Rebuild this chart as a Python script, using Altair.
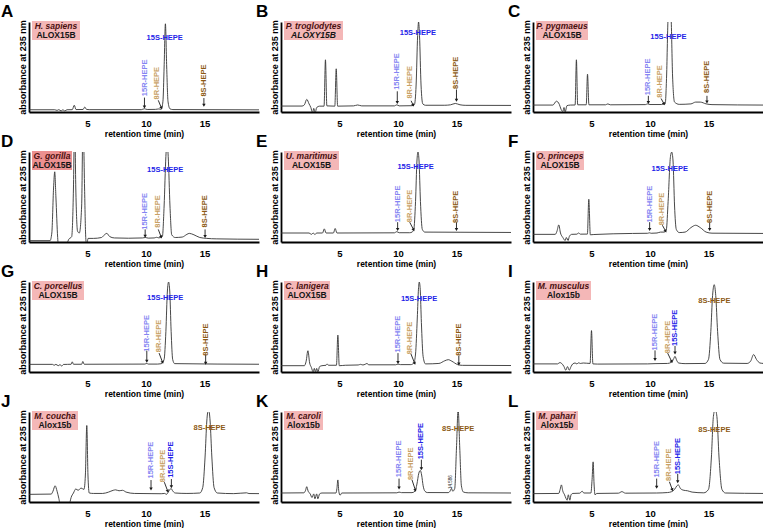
import math
import altair as alt
import pandas as pd

XMAX = 19.66
W, H = 230, 90
FONT = "Liberation Sans"

LETTERS = list("ABCDEFGHIJKL")
SPECIES = ["H. sapiens", "P. troglodytes", "P. pygmaeus", "G. gorilla", "U. maritimus", "O. princeps",
           "C. porcellus", "C. lanigera", "M. musculus", "M. coucha", "M. caroli", "M. pahari"]
ENZYMES = ["ALOX15B", "ALOXY15B", "ALOX15B", "ALOX15B", "ALOX15B", "ALOX15B",
           "ALOX15B", "ALOX15B", "Alox15b", "Alox15b", "Alox15b", "Alox15b"]
BOX_W = [48, 59, 52, 40, 55, 48, 52, 46, 55, 46, 39, 42]

LABEL_NAMES = ["15S-HEPE", "15R-HEPE", "8R-HEPE", "8S-HEPE"]
LABEL_COLORS = ["#2323e8", "#8585f2", "#c8a165", "#8c5a14"]

# ---- traces (retention time in min, absorbance in % of panel height) ----
A_trace = [(0, 2.5), (2.2, 2.5), (2.4, 1.8), (2.55, 2.6), (2.75, 1.2), (2.9, 2.5), (3.05, 1.2), (3.25, 2.5),
           (3.7, 2.6), (3.87, 7.5), (4.02, 2.7), (4.62, 2.8), (4.77, 5.5), (4.92, 2.8), (5.2, 2.6),
           (9.6, 2.6), (9.86, 3.6), (10.1, 2.8), (10.8, 2.9), (11.1, 3.4), (11.3, 3.0), (11.45, 12),
           (11.55, 50), (11.66, 98), (11.77, 50), (11.88, 12), (12.05, 3.5), (12.3, 2.7), (19.7, 2.4)]
B_trace = [(0, 6.6), (1.8, 6.6), (2.0, 8), (2.2, 14), (2.4, 9), (2.55, 5), (2.7, -1), (2.8, 4), (2.92, -1),
           (3.05, 5), (3.3, 6.5), (3.68, 6.5), (3.8, 58), (3.92, 6.8), (4.6, 6.5), (4.72, 48), (4.84, 6.5),
           (6.2, 6.8), (6.55, 7.8), (6.9, 6.8), (9.7, 6.8), (9.9, 8), (10.1, 6.8), (11.2, 7), (11.4, 8),
           (11.55, 30), (11.68, 85), (11.76, 100), (11.84, 85), (11.97, 30), (12.12, 9), (12.35, 7.5),
           (14.0, 7.5), (14.5, 8), (14.9, 9.5), (15.3, 8), (15.8, 7.4), (19.7, 7.3)]
C_trace = [(0, 7.7), (1.7, 7.7), (2.0, 12), (2.25, 8.5), (2.4, 3), (2.55, 0.5), (2.65, 5), (2.75, 0),
           (2.9, 7), (3.2, 7.7), (3.6, 7.8), (3.71, 58), (3.82, 8), (4.55, 8), (4.66, 42), (4.78, 8),
           (6.2, 8), (6.4, 9), (6.6, 8), (9.6, 8.2), (9.8, 9), (10.0, 8.3), (11.0, 8.3), (11.2, 9),
           (11.3, 9), (11.42, 40), (11.55, 105), (11.68, 115), (11.8, 105), (11.93, 40), (12.1, 11),
           (12.5, 8.5), (13.5, 9), (13.9, 11), (14.3, 11), (14.8, 9), (15.3, 8.2), (19.7, 7.7)]
D_trace = [(0, 1.5), (1.8, 1.5), (1.95, 10), (2.1, 60), (2.2, 78), (2.3, 50), (2.45, 5), (2.55, -8),
           (2.8, -3), (3.0, -8), (3.2, -3), (3.4, 3), (3.65, 6), (3.8, 60), (3.9, 140), (4.0, 60),
           (4.15, 12), (4.3, 10), (4.5, 40), (4.62, 140), (4.75, 60), (4.85, 5), (4.93, -4), (5.05, 4),
           (5.5, 4), (6.2, 5), (6.45, 8), (6.65, 9.6), (6.9, 6), (7.3, 4.5), (8.5, 4.2), (9.7, 4.5),
           (9.95, 5), (10.2, 4.3), (10.7, 4.5), (10.9, 5.2), (11.1, 4.6), (11.4, 6), (11.55, 40),
           (11.7, 95), (11.8, 110), (11.9, 95), (12.05, 40), (12.2, 8), (12.5, 5), (13.1, 5.5),
           (13.5, 8.5), (13.7, 9.6), (14.1, 8), (14.6, 5), (15.2, 4), (16, 3.5), (19.7, 3)]
E_trace = [(0, 10), (2.4, 10), (2.6, 8.5), (2.75, 10), (2.9, 8.3), (3.05, 10), (3.55, 10), (3.7, 14.6),
           (3.85, 10), (4.48, 10), (4.63, 15), (4.78, 10), (9.7, 10.2), (9.9, 11.5), (10.1, 10.3),
           (11.0, 10.3), (11.2, 11), (11.35, 14), (11.5, 45), (11.62, 90), (11.71, 100), (11.8, 90),
           (11.92, 45), (12.08, 14), (12.3, 11), (19.7, 10.6)]
F_trace = [(0, 8.5), (1.9, 8.5), (2.05, 12), (2.2, 19), (2.35, 10), (2.55, 5), (2.75, 1.7), (2.85, 5),
           (3.0, 1.7), (3.1, 6), (3.3, 8.5), (3.75, 8.7), (3.9, 10), (4.05, 8.7), (4.65, 8.8),
           (4.77, 47.5), (4.9, 8), (5.2, 8.3), (8.5, 9.5), (9.8, 9.7), (9.95, 10.2), (10.1, 9.7),
           (10.6, 10), (10.9, 11), (11.2, 11), (11.4, 14), (11.55, 45), (11.75, 95), (11.86, 100),
           (11.97, 90), (12.1, 40), (12.25, 14), (12.5, 10.5), (13.0, 11), (13.5, 16), (13.9, 18.6),
           (14.3, 16), (14.8, 11), (15.3, 9.8), (19.7, 9.5)]
G_trace = [(0, 8.5), (2.0, 8.5), (2.15, 7.5), (2.3, 8.5), (2.5, 7), (2.65, 8.2), (2.8, 6.6), (2.95, 8.4),
           (3.3, 8.5), (3.6, 8.6), (3.7, 11.3), (3.8, 8.6), (4.5, 8.6), (4.6, 11.7), (4.72, 8.6),
           (9.9, 8.8), (10.07, 9.5), (10.2, 8.8), (11.0, 8.8), (11.3, 9.2), (11.55, 14), (11.7, 45),
           (11.83, 90), (11.93, 100), (12.03, 90), (12.15, 45), (12.28, 14), (12.45, 9.3), (19.7, 8.6)]
H_trace = [(0, 7), (2.0, 7), (2.15, 12), (2.3, 23.6), (2.45, 10), (2.6, 5), (2.75, 0), (2.85, 4),
           (2.95, 0), (3.05, 4), (3.15, 0), (3.3, 6), (3.5, 7), (3.85, 7.5), (3.95, 9), (4.05, 7.5),
           (4.74, 7.5), (4.86, 41), (4.98, 7), (5.5, 7.5), (6.6, 7.8), (6.8, 8.5), (7.0, 7.8), (7.2, 8.6),
           (7.35, 9.5), (7.5, 8), (9.8, 8), (10.0, 8.8), (10.2, 8.2), (11.1, 8.2), (11.35, 10),
           (11.5, 20), (11.65, 60), (11.75, 92), (11.82, 100), (11.9, 92), (12.0, 55), (12.15, 17),
           (12.35, 9), (13.5, 9.5), (14.0, 12.5), (14.3, 13.7), (14.6, 12), (15.1, 8.2), (15.5, 7.4),
           (19.7, 7.2)]
I_trace = [(0, 9), (2.1, 9), (2.3, 10.5), (2.45, 9.5), (2.65, 6), (2.8, 2), (2.95, 6), (3.1, 2),
           (3.25, 6), (3.4, 9), (3.6, 10), (3.75, 9), (3.9, 10.2), (4.05, 9.5), (4.3, 10), (4.88, 9.5),
           (5.0, 46), (5.12, 9), (5.5, 8.8), (9.8, 9), (10.43, 9.3), (11.5, 9.5), (11.85, 11),
           (12.0, 14), (12.14, 17.4), (12.28, 13), (12.45, 10), (13.0, 9.3), (14.7, 9.5), (15.0, 14),
           (15.2, 45), (15.35, 85), (15.49, 97), (15.62, 85), (15.78, 45), (15.98, 14), (16.3, 9.8),
           (18.3, 9.5), (18.6, 12), (18.86, 19.4), (19.1, 14), (19.4, 10), (19.7, 9.5)]
J_trace = [(0, 8.5), (1.9, 8.8), (2.05, 12), (2.23, 18), (2.4, 12), (2.55, 4), (2.7, -5), (3.2, -8),
           (3.45, -3), (3.6, 5), (3.8, 10), (4.0, 14.5), (4.2, 13), (4.45, 15.5), (4.7, 14), (4.82, 30),
           (4.94, 85), (5.04, 30), (5.15, 10), (5.5, 9.5), (6.3, 9.5), (6.8, 11), (7.2, 13), (7.4, 13.5),
           (7.7, 12.5), (8.0, 13), (8.3, 11), (9.0, 9.5), (10.43, 9.3), (11.3, 9.2), (11.6, 9.5),
           (11.75, 8.5), (11.9, 11), (12.05, 14), (12.14, 15), (12.3, 12), (12.5, 10), (13.5, 9.5),
           (14.6, 10), (14.85, 16), (15.05, 50), (15.2, 90), (15.34, 103), (15.48, 90), (15.63, 50),
           (15.82, 16), (16.1, 10), (17.5, 9.3), (18.6, 10.2), (18.8, 9.4), (19.7, 9.3)]
K_trace = [(0, 10), (1.95, 10.2), (2.1, 13), (2.2, 17), (2.32, 12), (2.5, 9), (2.65, 5), (2.8, 9),
           (2.9, 3.6), (3.05, 9), (3.15, 3.6), (3.3, 9), (3.5, 10), (4.7, 10), (4.78, 15), (4.86, 24.5),
           (4.94, 12), (5.05, 7.5), (5.2, 10), (9.9, 10.2), (10.09, 11), (10.3, 10.4), (11.2, 10.4),
           (11.45, 12), (11.62, 20), (11.78, 32), (11.91, 35), (12.02, 30), (12.15, 18), (12.3, 12),
           (12.5, 10.5), (14.3, 10.4), (14.45, 12), (14.57, 15), (14.68, 12), (14.85, 15), (15.0, 60),
           (15.14, 103), (15.28, 60), (15.42, 18), (15.6, 11), (16.0, 10.2), (19.7, 10)]
L_trace = [(0, 9.3), (2.2, 9.5), (2.32, 14), (2.43, 19), (2.55, 12), (2.7, 8), (2.82, 4), (2.92, 2),
           (3.02, 8), (3.15, 2), (3.25, 8), (3.4, 9.5), (4.0, 9.8), (4.2, 12), (4.35, 10), (4.95, 10),
           (5.05, 25), (5.14, 44.6), (5.22, 20), (5.3, 8), (5.45, 9.5), (7.3, 9.8), (7.6, 11.5),
           (7.9, 9.8), (10.57, 10), (11.5, 10.5), (11.85, 11.5), (12.1, 14), (12.3, 18), (12.43, 19),
           (12.6, 15), (12.9, 13), (13.2, 12.5), (13.6, 11), (14.6, 10.2), (15.0, 14), (15.25, 50),
           (15.42, 95), (15.57, 103), (15.72, 95), (15.9, 50), (16.15, 14), (16.45, 10), (19.7, 9.5)]

# ---- peak labels: (name, time, height, orientation) ----
A_labels = [("15S-HEPE", 11.6, 82.5, "h"), ("15R-HEPE", 9.9, 38, "v"), ("8R-HEPE", 10.97, 32, "v"), ("8S-HEPE", 14.95, 35, "v")]
B_labels = [("15S-HEPE", 11.7, 88, "h"), ("15R-HEPE", 9.94, 45, "v"), ("8R-HEPE", 11.05, 33, "v"), ("8S-HEPE", 15.0, 43.5, "v")]
C_labels = [("15S-HEPE", 11.57, 83, "h"), ("15R-HEPE", 9.86, 39, "v"), ("8R-HEPE", 10.86, 34, "v"), ("8S-HEPE", 14.85, 39, "v")]
D_labels = [("15S-HEPE", 11.64, 80, "h"), ("15R-HEPE", 9.93, 34, "v"), ("8R-HEPE", 11.0, 34, "v"), ("8S-HEPE", 15.05, 34, "v")]
E_labels = [("15S-HEPE", 11.5, 83, "h"), ("15R-HEPE", 9.97, 42.4, "v"), ("8R-HEPE", 11.0, 40, "v"), ("8S-HEPE", 15.0, 39, "v")]
F_labels = [("15S-HEPE", 11.69, 81, "h"), ("15R-HEPE", 9.97, 42, "v"), ("8R-HEPE", 11.0, 36.6, "v"), ("8S-HEPE", 15.1, 39, "v")]
G_labels = [("15S-HEPE", 11.64, 82, "h"), ("15R-HEPE", 10.07, 43, "v"), ("8R-HEPE", 11.1, 40, "v"), ("8S-HEPE", 15.1, 36, "v")]
H_labels = [("15S-HEPE", 11.8, 81, "h"), ("15R-HEPE", 10.0, 42, "v"), ("8R-HEPE", 11.0, 37.7, "v"), ("8S-HEPE", 15.2, 36, "v")]
I_labels = [("8S-HEPE", 15.5, 79, "h"), ("15R-HEPE", 10.43, 44.4, "v"), ("8R-HEPE", 11.57, 39, "v"), ("15S-HEPE", 12.14, 49, "v")]
J_labels = [("8S-HEPE", 15.43, 82.5, "h"), ("15R-HEPE", 10.43, 46.5, "v"), ("8R-HEPE", 11.49, 40, "v"), ("15S-HEPE", 12.17, 47, "v")]
K_labels = [("8S-HEPE", 15.14, 81, "h"), ("15R-HEPE", 10.09, 48, "v"), ("8R-HEPE", 11.14, 42.4, "v"), ("15S-HEPE", 12.0, 67.6, "v")]
L_labels = [("8S-HEPE", 15.5, 80, "h"), ("15R-HEPE", 10.57, 47.5, "v"), ("8R-HEPE", 11.63, 41.4, "v"), ("15S-HEPE", 12.37, 51, "v")]

# ---- arrows: (time start, height start, time end, height end) ----
A_arrows = [(9.87, 16, 9.87, 5.5), (11.05, 13, 11.32, 4.5), (14.95, 15.5, 14.95, 7.5)]
B_arrows = [(9.94, 23, 9.94, 10.5), (11.12, 12.5, 11.3, 7.5), (15.0, 25, 15.0, 13)]
C_arrows = [(9.86, 18, 9.86, 10.5), (10.95, 15, 11.2, 9), (14.87, 18, 14.87, 11)]
D_arrows = [(9.93, 14, 9.93, 6.5), (11.05, 14, 11.3, 5.5), (15.05, 14, 15.05, 6)]
E_arrows = [(9.97, 22, 9.97, 14), (11.0, 22, 11.34, 13.5), (15.0, 22, 15.0, 14)]
F_arrows = [(9.97, 22, 9.97, 14), (11.06, 18.6, 11.34, 12), (15.1, 22, 15.1, 14)]
G_arrows = [(10.07, 23.8, 10.07, 12), (11.12, 21, 11.42, 10.6), (15.1, 19, 15.1, 9.6)]
H_arrows = [(10.0, 21, 10.0, 10.6), (11.11, 20, 11.43, 9.5), (15.2, 18.3, 15.2, 8.8)]
I_arrows = [(10.43, 24, 10.43, 14), (11.51, 21, 11.86, 11.5), (12.14, 29, 12.14, 21)]
J_arrows = [(10.43, 24.4, 10.43, 14.5), (11.57, 22, 11.86, 12), (12.17, 25.5, 12.17, 17)]
K_arrows = [(10.09, 26, 10.09, 15.5), (11.2, 24.5, 11.49, 13), (12.0, 47, 12.0, 37)]
L_arrows = [(10.57, 26, 10.57, 16.4), (11.66, 22.5, 11.91, 13.6), (12.37, 31.4, 12.37, 22.5)]

TRACES = [A_trace, B_trace, C_trace, D_trace, E_trace, F_trace, G_trace, H_trace, I_trace, J_trace, K_trace, L_trace]
LABELS = [A_labels, B_labels, C_labels, D_labels, E_labels, F_labels, G_labels, H_labels, I_labels, J_labels, K_labels, L_labels]
ARROWS = [A_arrows, B_arrows, C_arrows, D_arrows, E_arrows, F_arrows, G_arrows, H_arrows, I_arrows, J_arrows, K_arrows, L_arrows]

# small retention-time annotation in panel K
K_note = [("14.586", 14.5, 22)]


def make_panel(i):
    col = i % 3
    xs = alt.Scale(domain=[0, XMAX], nice=False, zero=False)
    ys = alt.Scale(domain=[0, 100], nice=False, zero=False)
    xax = alt.Axis(values=[5, 10, 15], title="retention time (min)", labelFontSize=9.5,
                   titleFontSize=8.5, labelPadding=6, titlePadding=2)
    yax = alt.Axis(title="absorbance at 235 nm", labels=False, ticks=False, titleFontSize=9, titlePadding=2)

    tdf = pd.DataFrame(TRACES[i], columns=["t", "a"])
    line = alt.Chart(tdf).mark_line(color="#333333", strokeWidth=0.9, interpolate="monotone", clip=True).encode(
        x=alt.X("t:Q", scale=xs, axis=xax), y=alt.Y("a:Q", scale=ys, axis=yax))

    ldf = pd.DataFrame(LABELS[i], columns=["name", "t", "a", "orient"])
    cscale = alt.Scale(domain=LABEL_NAMES, range=LABEL_COLORS)
    vlab = alt.Chart(ldf).transform_filter(alt.datum.orient == "v").mark_text(
        angle=270, fontSize=7.5, fontWeight="bold", font=FONT).encode(
        x="t:Q", y="a:Q", text="name:N", color=alt.Color("name:N", scale=cscale, legend=None))
    hlab = alt.Chart(ldf).transform_filter(alt.datum.orient == "h").mark_text(
        fontSize=7.5, fontWeight="bold", font=FONT).encode(
        x="t:Q", y="a:Q", text="name:N", color=alt.Color("name:N", scale=cscale, legend=None))

    adf = pd.DataFrame(ARROWS[i], columns=["t", "a", "t2", "a2"])
    dx = (adf["t2"] - adf["t"]) * W / XMAX
    dy = (adf["a"] - adf["a2"]) * H / 100
    adf["ang"] = [(360 - math.degrees(math.atan2(u, v))) % 360 for u, v in zip(dx, dy)]
    rules = alt.Chart(adf).mark_rule(color="#1a1a1a", strokeWidth=0.9).encode(
        x="t:Q", y="a:Q", x2="t2:Q", y2="a2:Q")
    heads = alt.Chart(adf).mark_point(shape="triangle-down", filled=True, size=12, color="#1a1a1a",
                                      opacity=1).encode(
        x="t2:Q", y="a2:Q", angle=alt.Angle("ang:Q", scale=None))

    one = pd.DataFrame({"k": [0]})
    bw = BOX_W[i]
    boxcolor = "#ec9090" if LETTERS[i] == "D" else "#f4b7b7"
    box = alt.Chart(one).mark_rect(color=boxcolor).encode(
        x=alt.value(3), x2=alt.value(3 + bw), y=alt.value(-1), y2=alt.value(18))
    sp = alt.Chart(one).mark_text(fontSize=8.5, fontWeight="bold", fontStyle="italic", color="#4a1010",
                                  font=FONT).encode(
        x=alt.value(3 + bw / 2), y=alt.value(4), text=alt.value(SPECIES[i]))
    en = alt.Chart(one).mark_text(fontSize=8.5, fontWeight="bold",
                                  fontStyle="italic" if LETTERS[i] == "B" else "normal",
                                  color="#151515", font=FONT).encode(
        x=alt.value(3 + bw / 2), y=alt.value(12.5), text=alt.value(ENZYMES[i]))
    let = alt.Chart(one).mark_text(fontSize=17, fontWeight="bold", align="left", baseline="alphabetic",
                                   color="black", font=FONT).encode(
        x=alt.value(-28 if col == 0 else -25), y=alt.value(-5), text=alt.value(LETTERS[i]))

    layers = [line, rules, heads, vlab, hlab, box, sp, en, let]
    if LETTERS[i] == "K":
        ndf = pd.DataFrame(K_note, columns=["txt", "t", "a"])
        layers.append(alt.Chart(ndf).mark_text(angle=270, fontSize=4.5, color="#222", font=FONT).encode(
            x="t:Q", y="a:Q", text="txt:N"))
    return alt.layer(*layers).properties(width=W, height=H)


panels = [make_panel(i) for i in range(12)]
chart = alt.concat(*panels, columns=3, spacing={"row": 40, "column": 22}, bounds="flush").properties(
    padding={"left": 1, "top": 3, "right": 0, "bottom": 0}
).configure_axis(
    domainColor="black", domainWidth=1.8, labelFont=FONT, labelFontWeight="bold", labelColor="black",
    titleFont=FONT, titleFontWeight="bold", titleColor="black", grid=False, ticks=False
).configure_view(stroke=None)

chart.save("out.html", embed_options={"renderer": "svg", "actions": False})
